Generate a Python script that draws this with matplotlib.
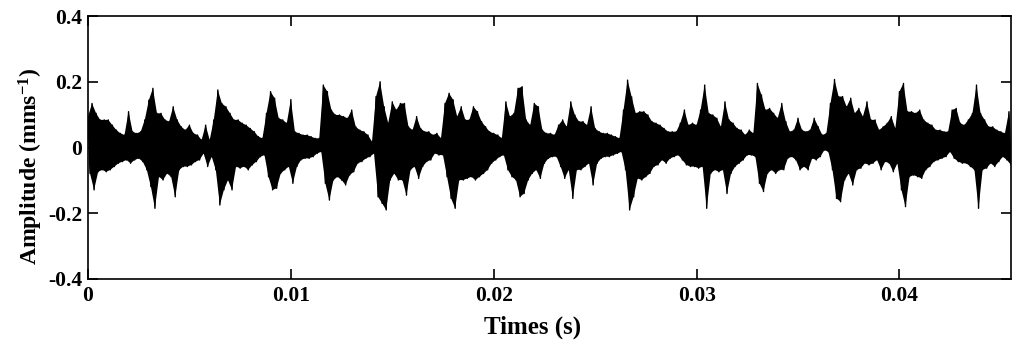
import numpy as np
import matplotlib
matplotlib.use("Agg")
import matplotlib.pyplot as plt

# Sampling step between successive envelope readings (s)
dt = 0.0002

# Upper (positive) peaks, one every 0.0002 s
peak_pos = [
    0.094, 0.134, 0.104, 0.084, 0.084, 0.084, 0.068, 0.053, 0.043, 0.038,
    0.109, 0.048, 0.043, 0.048, 0.084, 0.144, 0.180, 0.104, 0.104, 0.084,
    0.079, 0.124, 0.084, 0.063, 0.053, 0.068, 0.043, 0.038,
    0.023, 0.068, 0.023, 0.084, 0.175, 0.134, 0.124, 0.104, 0.084, 0.084,
    0.074, 0.068, 0.058, 0.048, 0.033, 0.028, 0.104, 0.170, 0.150, 0.089,
    0.084, 0.074, 0.146, 0.048, 0.043, 0.038, 0.038, 0.033, 0.028,
    0.028, 0.190, 0.170, 0.114, 0.099, 0.099, 0.094, 0.089, 0.114, 0.063,
    0.053, 0.048, 0.038, 0.018, 0.155, 0.200, 0.124, 0.074, 0.139, 0.114,
    0.134, 0.134, 0.063, 0.053, 0.094, 0.058, 0.048, 0.048,
    0.038, 0.043, 0.028, 0.134, 0.165, 0.145, 0.094, 0.124, 0.084, 0.084,
    0.124, 0.109, 0.079, 0.063, 0.048, 0.043, 0.038, 0.028, 0.139, 0.094,
    0.104, 0.180, 0.185, 0.084, 0.068, 0.134, 0.124, 0.053, 0.043,
    0.043, 0.038, 0.068, 0.084, 0.063, 0.139, 0.099, 0.079, 0.079, 0.068,
    0.124, 0.058, 0.048, 0.043, 0.043, 0.038, 0.033, 0.028, 0.114, 0.205,
    0.154, 0.104, 0.109, 0.109, 0.099, 0.079, 0.074, 0.068, 0.058,
    0.048, 0.048, 0.048, 0.074, 0.114, 0.068, 0.074, 0.068, 0.114, 0.190,
    0.104, 0.099, 0.089, 0.063, 0.139, 0.084, 0.074, 0.058, 0.053, 0.038,
    0.053, 0.043, 0.195, 0.160, 0.114, 0.119, 0.104, 0.089,
    0.134, 0.079, 0.048, 0.053, 0.089, 0.053, 0.048, 0.053, 0.089, 0.063,
    0.038, 0.043, 0.134, 0.207, 0.155, 0.155, 0.124, 0.150, 0.104, 0.119,
    0.094, 0.139, 0.084, 0.084, 0.053, 0.063, 0.074, 0.094, 0.058,
    0.170, 0.195, 0.109, 0.109, 0.104, 0.114, 0.084, 0.074, 0.068, 0.053,
    0.053, 0.048, 0.048, 0.114, 0.119, 0.074, 0.068, 0.084, 0.104, 0.190,
    0.104, 0.084, 0.063, 0.063, 0.053, 0.048, 0.043, 0.109,
]

# Lower (negative) peaks, each 0.0001 s after the upper one
peak_neg = [
    -0.079, -0.129, -0.074, -0.068, -0.074, -0.068, -0.058, -0.048, -0.043, -0.038,
    -0.048, -0.038, -0.033, -0.043, -0.068, -0.119, -0.185, -0.089, -0.099, -0.079,
    -0.089, -0.150, -0.068, -0.058, -0.058, -0.053, -0.043, -0.038,
    -0.018, -0.058, -0.028, -0.068, -0.175, -0.129, -0.099, -0.129, -0.058, -0.063,
    -0.058, -0.068, -0.053, -0.043, -0.028, -0.023, -0.089, -0.129, -0.124, -0.079,
    -0.068, -0.058, -0.109, -0.058, -0.038, -0.033, -0.033, -0.028, -0.018,
    -0.013, -0.109, -0.160, -0.099, -0.089, -0.099, -0.114, -0.084, -0.074, -0.048,
    -0.043, -0.033, -0.028, -0.018, -0.150, -0.170, -0.190, -0.099, -0.079, -0.099,
    -0.099, -0.145, -0.068, -0.058, -0.094, -0.058, -0.043, -0.038,
    -0.018, -0.023, -0.023, -0.089, -0.155, -0.185, -0.099, -0.099, -0.094, -0.089,
    -0.099, -0.089, -0.079, -0.068, -0.048, -0.038, -0.028, -0.023, -0.068, -0.089,
    -0.099, -0.150, -0.140, -0.099, -0.079, -0.068, -0.094, -0.048, -0.033,
    -0.028, -0.028, -0.058, -0.094, -0.068, -0.155, -0.068, -0.068, -0.058, -0.048,
    -0.114, -0.048, -0.033, -0.028, -0.028, -0.023, -0.018, -0.013, -0.068, -0.190,
    -0.150, -0.094, -0.099, -0.089, -0.079, -0.058, -0.053, -0.038, -0.048,
    -0.033, -0.028, -0.023, -0.038, -0.053, -0.058, -0.058, -0.063, -0.058, -0.185,
    -0.079, -0.068, -0.074, -0.068, -0.140, -0.079, -0.058, -0.048, -0.038, -0.023,
    -0.023, -0.028, -0.109, -0.134, -0.079, -0.068, -0.079, -0.068,
    -0.068, -0.033, -0.028, -0.038, -0.068, -0.058, -0.068, -0.033, -0.038, -0.028,
    -0.008, -0.013, -0.068, -0.155, -0.165, -0.099, -0.079, -0.114, -0.068, -0.063,
    -0.048, -0.053, -0.048, -0.038, -0.068, -0.043, -0.048, -0.074, -0.048,
    -0.129, -0.180, -0.089, -0.084, -0.089, -0.094, -0.068, -0.058, -0.043, -0.038,
    -0.033, -0.028, -0.013, -0.033, -0.043, -0.048, -0.048, -0.058, -0.068, -0.185,
    -0.068, -0.063, -0.048, -0.058, -0.043, -0.028, -0.038, -0.053,
]

x_ticks = [0, 0.01, 0.02, 0.03, 0.04]
x_tick_labels = ["0", "0.01", "0.02", "0.03", "0.04"]
y_ticks = [-0.4, -0.2, 0, 0.2, 0.4]
y_tick_labels = ["-0.4", "-0.2", "0", "0.2", "0.4"]

plt.rcParams["font.family"] = ["Liberation Serif", "DejaVu Serif"]
plt.rcParams["font.weight"] = "bold"
plt.rcParams["mathtext.fontset"] = "custom"
plt.rcParams["mathtext.rm"] = "Liberation Serif:bold"
plt.rcParams["mathtext.it"] = "Liberation Serif:bold"
plt.rcParams["mathtext.bf"] = "Liberation Serif:bold"
plt.rcParams["axes.unicode_minus"] = False

pos = np.asarray(peak_pos)
neg = np.asarray(peak_neg)
n = len(pos)
t_pos = np.arange(n) * dt
t_neg = t_pos + dt / 2
t = np.empty(2 * n)
y = np.empty(2 * n)
t[0::2] = t_pos
t[1::2] = t_neg
y[0::2] = pos
y[1::2] = neg

fig = plt.figure(figsize=(10.24, 3.54), dpi=100)
ax = fig.add_axes([88 / 1024, 1 - 279 / 354, (1011 - 88) / 1024, (279 - 16) / 354])

# dense oscillation: the signal swings between its read peaks
ax.fill(np.concatenate([t_pos, t_neg[::-1]]), np.concatenate([pos, neg[::-1]]),
        color="black", linewidth=0)
ax.plot(t, y, color="black", linewidth=1.0)

ax.set_xlim(0, 0.0455)
ax.set_ylim(-0.4, 0.4)
ax.set_xticks(x_ticks)
ax.set_xticklabels(x_tick_labels)
ax.set_yticks(y_ticks)
ax.set_yticklabels(y_tick_labels)
ax.tick_params(direction="in", length=7, width=1.2, labelsize=15.5,
               top=True, right=True)
ax.tick_params(axis="x", pad=5)
ax.tick_params(axis="y", pad=4)
for lab in ax.get_xticklabels() + ax.get_yticklabels():
    lab.set_fontweight("bold")
for s in ax.spines.values():
    s.set_linewidth(1.2)

ax.set_xlabel("Times (s)", fontsize=18, fontweight="bold")
ax.set_ylabel(r"Amplitude (mms$^{-1}$)", fontsize=17, fontweight="bold")
ax.xaxis.set_label_coords(0.482, -0.14)
ax.yaxis.set_label_coords(-0.047, 0.43)

fig.savefig("out.png", dpi=100)
